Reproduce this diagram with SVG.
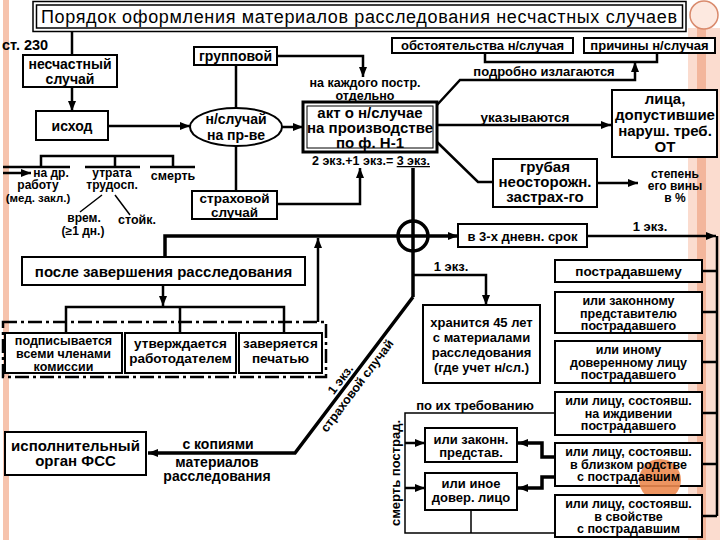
<svg xmlns="http://www.w3.org/2000/svg" width="720" height="540" viewBox="0 0 720 540">
<defs>
<marker id="ar" markerUnits="userSpaceOnUse" markerWidth="10" markerHeight="8" refX="10" refY="4" orient="auto"><path d="M0,0 L10,4 L0,8 z" fill="#000"/></marker>
<style>
.b{fill:#fff;stroke:#000;stroke-width:2}
.t{font-family:"Liberation Sans",Arial,sans-serif;font-weight:bold;fill:#000;text-anchor:middle}
.c{fill:none;stroke:#000;stroke-width:2.5}
.k{fill:none;stroke:#000;stroke-width:3.5}
.n{fill:none;stroke:#000;stroke-width:1.5}
</style>
</defs>
<rect x="0" y="0" width="720" height="540" fill="#fff"/>
<g id="decor">
<rect x="3" y="0" width="6" height="540" fill="#f6c3ad"/>
<rect x="688" y="28" width="32" height="512" fill="#fbdccf"/>
<rect x="697" y="28" width="9" height="512" fill="#f3b69c"/>
<circle cx="704" cy="15" r="14" fill="#fde9e0" stroke="#d98a6c" stroke-width="1.5"/>
</g>
<g id="connectors">
<path class="c" d="M72,32 V55"/>
<path class="c" d="M72,87 V111" marker-end="url(#ar)"/>
<path class="c" d="M108,126 H190" marker-end="url(#ar)"/>
<path class="c" d="M236,65 V108"/>
<path class="c" d="M277,56 H363 V77" marker-end="url(#ar)"/>
<path class="c" d="M282,127 H303" marker-end="url(#ar)"/>
<path class="c" d="M236,146 V191"/>
<path class="c" d="M277,204 H360 V168" marker-end="url(#ar)"/>
<path class="c" d="M41,167 V156 H173 V167 M115,156 V167 M3,167 H70 M85,167 H140 M150,167 H195"/>
<path class="c" d="M3,173 H31" marker-end="url(#ar)"/>
<path class="n" d="M102,195 L80,212 M115,195 L130,215"/>
<path class="c" d="M437,105 L460,80 H635 V62" marker-end="url(#ar)"/>
<path class="c" d="M485,53 V62 H657 V53"/>
<path class="c" d="M437,125 H611" marker-end="url(#ar)"/>
<path class="c" d="M437,142 L478,182 H493"/>
<path class="c" d="M597,183 H638" marker-end="url(#ar)"/>
<path class="k" d="M413,168 V297"/>
<circle cx="413" cy="236" r="15" class="k"/>
<path class="k" d="M165,257 V236 H458" marker-end="url(#ar)"/>
<path class="c" d="M318,322 V238" marker-end="url(#ar)"/>
<path class="c" d="M587,236 H716" marker-end="url(#ar)"/>
<path class="c" d="M717,236 V516 M702,271 H717 M702,312 H717 M702,362 H717 M702,413 H717 M702,464 H717 M702,516 H717"/>
<path class="c" d="M413,275 H486 V305" marker-end="url(#ar)"/>
<path class="k" d="M413,297 L295,453 H148" marker-end="url(#ar)"/>
<path class="c" d="M163,285 V306" marker-end="url(#ar)"/>
<path class="c" d="M66,333 V307 H284 V333 M180,307 V333"/>
<path class="n" d="M555,413 H405 V533 H555 M471,510 V533"/>
<path class="c" d="M405,443 H425" marker-end="url(#ar)"/>
<path class="c" d="M405,488 H425" marker-end="url(#ar)"/>
<path class="k" d="M555,457 H542 V443 H518" marker-end="url(#ar)"/>
<path class="k" d="M555,477 H542 V488 H518" marker-end="url(#ar)"/>
</g>
<g id="title">
<rect x="33" y="1.5" width="653" height="30" fill="#fff" stroke="#000" stroke-width="1.5"/>
<rect x="36.5" y="5" width="646" height="23" fill="none" stroke="#000" stroke-width="1.5"/>
<text class="t" x="359" y="23" font-size="18" style="font-weight:normal" textLength="636">Порядок оформления материалов расследования несчастных случаев</text>
</g>
<g id="st230"><text class="t" x="2" y="50" font-size="14.5" style="text-anchor:start">ст. 230</text></g>
<g id="nesch">
<rect class="b" x="23" y="55" width="94" height="32"/>
<text class="t" x="70" y="69" font-size="14">несчастный</text>
<text class="t" x="70" y="84" font-size="14">случай</text>
</g>
<g id="ishod">
<rect class="b" x="36" y="111" width="72" height="29"/>
<text class="t" x="72" y="131" font-size="14">исход</text>
</g>
<g id="gruppovoy">
<rect class="b" x="194" y="47" width="83" height="18"/>
<text class="t" x="235.5" y="61" font-size="14">групповой</text>
</g>
<g id="nsluch">
<ellipse class="b" cx="236" cy="127" rx="46" ry="19"/>
<text class="t" x="236" y="124" font-size="14">н/случай</text>
<text class="t" x="236" y="140" font-size="14">на пр-ве</text>
</g>
<g id="nakazhdogo">
<text class="t" x="365" y="87" font-size="12.5">на каждого постр.</text>
<text class="t" x="365" y="100" font-size="12.5">отдельно</text>
</g>
<g id="akt">
<rect x="303" y="102" width="134" height="50" fill="#fff" stroke="#000" stroke-width="3"/>
<rect x="307" y="106" width="126" height="42" fill="none" stroke="#000" stroke-width="1"/>
<text class="t" x="370" y="118" font-size="15">акт о н/случае</text>
<text class="t" x="370" y="133" font-size="15">на производстве</text>
<text class="t" x="370" y="148" font-size="15">по ф. Н-1</text>
</g>
<g id="ekz3">
<text class="t" x="371" y="165" font-size="12.5">2 экз.+1 экз.= <tspan text-decoration="underline">3 экз.</tspan></text>
</g>
<g id="strah">
<rect class="b" x="192" y="191" width="85" height="28"/>
<text class="t" x="234.5" y="203" font-size="13.5">страховой</text>
<text class="t" x="234.5" y="217" font-size="13.5">случай</text>
</g>
<g id="ishody">
<text class="t" x="51" y="177" font-size="12">на др.</text>
<text class="t" x="38" y="189" font-size="12">работу</text>
<text class="t" x="38" y="202" font-size="11.5">(мед. закл.)</text>
<text class="t" x="112" y="177" font-size="12">утрата</text>
<text class="t" x="112" y="189" font-size="12">трудосп.</text>
<text class="t" x="173" y="180" font-size="12.5">смерть</text>
<text class="t" x="84" y="222" font-size="12">врем.</text>
<text class="t" x="83" y="235" font-size="12">(≥1 дн.)</text>
<text class="t" x="137" y="224" font-size="12.5">стойк.</text>
</g>
<g id="obst">
<rect class="b" x="392" y="38" width="181" height="15"/>
<text class="t" x="482.5" y="50" font-size="13">обстоятельства н/случая</text>
</g>
<g id="prichiny">
<rect class="b" x="584" y="38" width="131" height="15"/>
<text class="t" x="649.5" y="50" font-size="13">причины н/случая</text>
</g>
<g id="lbl1">
<text class="t" x="544" y="76" font-size="13">подробно излагаются</text>
<text class="t" x="525" y="122" font-size="13.5">указываются</text>
</g>
<g id="lica">
<rect class="b" x="612" y="90" width="105" height="67"/>
<text class="t" x="665" y="104" font-size="15">лица,</text>
<text class="t" x="665" y="120" font-size="15">допустившие</text>
<text class="t" x="665" y="136" font-size="15">наруш. треб.</text>
<text class="t" x="665" y="152" font-size="15">ОТ</text>
</g>
<g id="grubaya">
<rect class="b" x="493" y="159" width="104" height="48"/>
<text class="t" x="545" y="172" font-size="15">грубая</text>
<text class="t" x="545" y="187" font-size="15">неосторожн.</text>
<text class="t" x="545" y="202" font-size="15">застрах-го</text>
</g>
<g id="stepen">
<text class="t" x="675" y="178" font-size="12">степень</text>
<text class="t" x="675" y="190" font-size="12">его вины</text>
<text class="t" x="675" y="202" font-size="12">в %</text>
</g>
<g id="srok">
<rect class="b" x="458" y="224" width="129" height="23"/>
<text class="t" x="522.5" y="241" font-size="13">в 3-х дневн. срок</text>
</g>
<g id="lbl2">
<text class="t" x="650" y="231" font-size="13">1 экз.</text>
<text class="t" x="451" y="271" font-size="13">1 экз.</text>
</g>
<g id="posle">
<rect class="b" x="22" y="257" width="283" height="28"/>
<text class="t" x="163.5" y="277" font-size="15">после завершения расследования</text>
</g>
<g id="group3">
<rect x="3" y="322" width="323" height="55" fill="none" stroke="#000" stroke-width="2.5" stroke-dasharray="14 4 3 4"/>
</g>
<g id="podpis">
<rect class="b" x="5" y="333" width="117" height="40"/>
<text class="t" x="63.5" y="345" font-size="12.5">подписывается</text>
<text class="t" x="63.5" y="358" font-size="12.5">всеми членами</text>
<text class="t" x="63.5" y="371" font-size="12.5">комиссии</text>
</g>
<g id="utverzh">
<rect class="b" x="125" y="333" width="111" height="40"/>
<text class="t" x="180.5" y="348" font-size="13.5">утверждается</text>
<text class="t" x="180.5" y="363" font-size="13.5">работодателем</text>
</g>
<g id="zaver">
<rect class="b" x="239" y="333" width="83" height="40"/>
<text class="t" x="280.5" y="348" font-size="13.5">заверяется</text>
<text class="t" x="280.5" y="363" font-size="13.5">печатью</text>
</g>
<g id="diaglbl">
<text class="t" font-size="12.5" transform="translate(347,384.5) rotate(-52.9)" x="0" y="-4">1 экз.</text>
<text class="t" font-size="12.5" transform="translate(350,380.5) rotate(-52.9)" x="0" y="13">страховой случай</text>
</g>
<g id="hranitsya">
<rect class="b" x="423" y="305" width="117" height="78"/>
<text class="t" x="481.5" y="327" font-size="13">хранится 45 лет</text>
<text class="t" x="481.5" y="342" font-size="13">с материалами</text>
<text class="t" x="481.5" y="357" font-size="13">расследования</text>
<text class="t" x="481.5" y="372" font-size="13">(где учет н/сл.)</text>
</g>
<g id="fss">
<rect class="b" x="5" y="432" width="141" height="43"/>
<text class="t" x="75.5" y="451" font-size="15">исполнительный</text>
<text class="t" x="75.5" y="466" font-size="15">орган ФСС</text>
</g>
<g id="kopii">
<text class="t" x="218" y="449" font-size="14">с копиями</text>
<text class="t" x="217" y="467" font-size="14">материалов</text>
<text class="t" x="217" y="481" font-size="14">расследования</text>
</g>
<g id="r1">
<rect class="b" x="555" y="260" width="147" height="22"/>
<text class="t" x="628.5" y="276" font-size="13.5">пострадавшему</text>
</g>
<g id="r2">
<rect class="b" x="555" y="292" width="147" height="41"/>
<text class="t" x="628.5" y="305" font-size="12.5">или законному</text>
<text class="t" x="628.5" y="317.5" font-size="12.5">представителю</text>
<text class="t" x="628.5" y="330" font-size="12.5">пострадавшего</text>
</g>
<g id="r3">
<rect class="b" x="555" y="341" width="147" height="42"/>
<text class="t" x="628.5" y="354" font-size="12.5">или иному</text>
<text class="t" x="628.5" y="366.5" font-size="12.5">доверенному лицу</text>
<text class="t" x="628.5" y="379" font-size="12.5">пострадавшего</text>
</g>
<g id="r4">
<rect class="b" x="555" y="392" width="147" height="43"/>
<text class="t" x="628.5" y="405" font-size="12.5">или лицу, состоявш.</text>
<text class="t" x="628.5" y="417.5" font-size="12.5">на иждивении</text>
<text class="t" x="628.5" y="430" font-size="12.5">пострадавшего</text>
</g>
<g id="r5">
<rect class="b" x="555" y="443" width="147" height="43"/>
<circle cx="660" cy="480" r="21" fill="#ec8a50" opacity="0.9"/>
<text class="t" x="628.5" y="456" font-size="12.5">или лицу, состоявш.</text>
<text class="t" x="628.5" y="468.5" font-size="12.5">в близком родстве</text>
<text class="t" x="628.5" y="481" font-size="12.5">с пострадавшим</text>
</g>
<g id="r6">
<rect class="b" x="555" y="495" width="147" height="42"/>
<text class="t" x="628.5" y="508" font-size="12.5">или лицу, состоявш.</text>
<text class="t" x="628.5" y="520.5" font-size="12.5">в свойстве</text>
<text class="t" x="628.5" y="533" font-size="12.5">с пострадавшим</text>
</g>
<g id="trebov"><text class="t" x="475" y="410" font-size="13">по их требованию</text></g>
<g id="smert"><text class="t" font-size="13" transform="translate(400,473) rotate(-90)">смерть пострад.</text></g>
<g id="zakonn">
<rect class="b" x="425" y="428" width="92" height="34"/>
<text class="t" x="471" y="444" font-size="13">или законн.</text>
<text class="t" x="471" y="457" font-size="13">представ.</text>
</g>
<g id="inoe">
<rect class="b" x="425" y="473" width="92" height="37"/>
<text class="t" x="471" y="488" font-size="13">или иное</text>
<text class="t" x="471" y="502" font-size="13">довер. лицо</text>
</g>
</svg>
